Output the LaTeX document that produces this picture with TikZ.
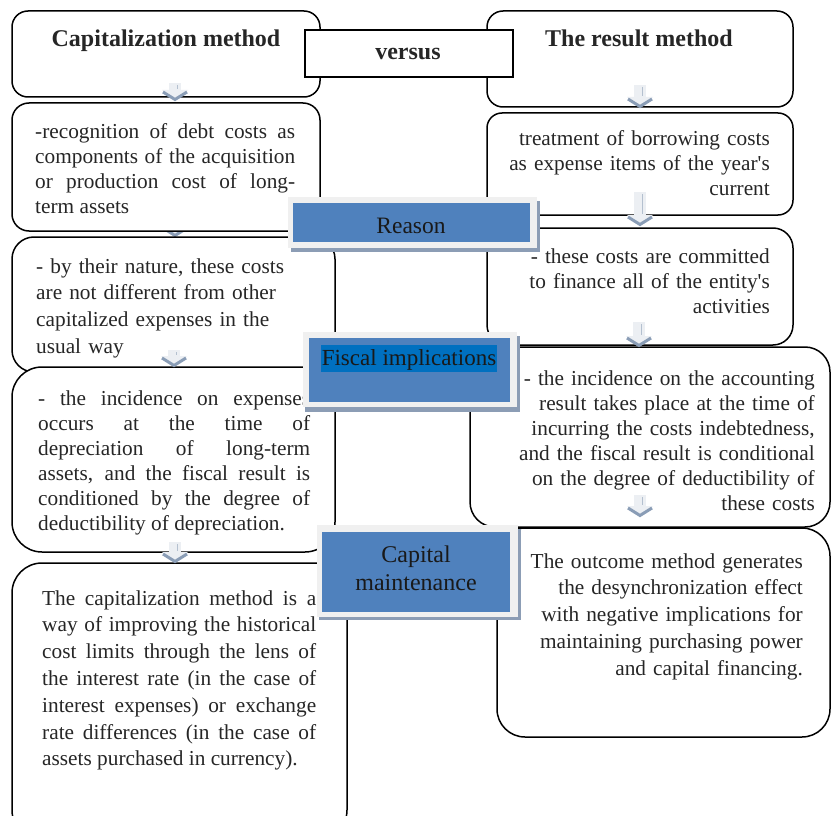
\documentclass[tikz,border=0pt]{standalone}
\usepackage{fontspec}
\setmainfont{Liberation Serif}
\usetikzlibrary{fit}

\definecolor{boxblue}{HTML}{4F81BD}
\definecolor{hiblue}{HTML}{0070C0}
\definecolor{framegray}{HTML}{F0F0F0}
\definecolor{shadowgray}{HTML}{8C9DB5}
\definecolor{arrowlight}{HTML}{ECEFF3}
\definecolor{arrowmid}{HTML}{B4C0CF}
\definecolor{arrowdark}{HTML}{8A9DB6}
\definecolor{ink}{HTML}{262626}

\tikzset{
  box/.style={draw=black, line width=1.5pt, fill=white, rounded corners=#1, inner sep=0pt},
  box/.default=18pt,
  plainbox/.style={draw=black, line width=1.5pt, fill=white, inner sep=0pt},
  body/.style={text=ink, inner sep=0pt, font=\fontsize{21.3}{25}\selectfont},
  looser/.style={font=\fontsize{21.3}{26.8}\selectfont},
  title/.style={text=ink, inner sep=0pt, anchor=base, font=\bfseries\fontsize{24}{28}\selectfont},
  lblshadow/.style={fill=shadowgray, inner sep=0pt},
  lblframe/.style={fill=framegray, inner sep=0pt},
  lblfill/.style={fill=boxblue, inner sep=0pt},
  lbltext/.style={text=black!90, inner sep=0pt, anchor=base},
  pics/downarrow/.style={code={
    \fill[arrowlight] (-6,0) rectangle (6,#1-10);
    \fill[arrowlight] (-13,#1-11) -- (13,#1-11) -- (0,#1) -- cycle;
    \draw[arrowmid, line width=1.2pt] (2.5,2) -- (2.5,#1-12);
    \draw[arrowdark, line width=3pt] (-12,#1-9) -- (0,#1-1.5) -- (12,#1-9);
  }}
}

\begin{document}
\begin{tikzpicture}[x=1pt, y=-1pt]
\useasboundingbox (0,0) rectangle (831,816);
\clip (0,0) rectangle (831,816);

% heading row
\node[box=16pt, fit={(12,11) (320,97)}] (L1) {};
\node[box=16pt, fit={(487,11) (793,107)}] (R1) {};
\node[plainbox, fit={(305,30) (513,77)}] (vs) {};
\node[title] (L1t) at (166,47) {Capitalization method};
\node[title] (R1t) at (639,47) {The result method};
\node[title] (vst) at (408,60) {versus};

% arrow hidden between the first two left boxes
\coordinate (a2) at (175,220);
\pic at (a2) {downarrow=17};

% second row
\node[box=17pt, fit={(12,103) (320,231)}] (L2) {};
\node[box=15pt, fit={(487,113) (793,215)}] (R2) {};
\node[body, text width=260pt, align=justify, anchor=base west] (L2t) at (35,139)
  {-recognition of debt costs as\linebreak components of the acquisition\linebreak or production cost of long-\linebreak term assets};
\node[body, text width=300pt, align=right, anchor=base east] (R2t) at (770,146)
  {treatment of borrowing costs\\ as expense items of the year\textquotesingle s\\ current};

% third row
\node[box=22pt, fit={(12,237) (335,372)}] (L3) {};
\node[box=20pt, fit={(487,228) (793,345)}] (R3) {};
\node[body, looser, text width=290pt, align=left, anchor=base west] (L3t) at (36,273)
  {- by their nature, these costs\\ are not different from other\\ capitalized expenses in the\\ usual way};
\node[body, text width=300pt, align=right, anchor=base east] (R3t) at (770,263)
  {- these costs are committed\\ to finance all of the entity\textquotesingle s\\ activities};

% fourth row
\node[box=30pt, fit={(12,367) (335,552)}] (L4) {};
\node[box=25pt, fit={(470,347) (830,527)}] (R4) {};
\node[body, text width=272pt, align=justify, anchor=base west] (L4t) at (38,405)
  {- the incidence on expenses\linebreak occurs at the time of\linebreak depreciation of long-term\linebreak assets, and the fiscal result is\linebreak conditioned by the degree of\linebreak deductibility of depreciation.};
\node[body, text width=340pt, align=right, anchor=base east] (R4t) at (815,385)
  {- the incidence on the accounting\\ result takes place at the time of\\ incurring the costs indebtedness,\\ and the fiscal result is conditional\\ on the degree of deductibility of\\ these costs};

% bottom row
\node[box=30pt, fit={(12,563) (347,840)}] (L5) {};
\node[box=28pt, fit={(497,528) (830,737)}] (R5) {};
\node[body, looser, text width=274pt, align=justify, anchor=base west] (L5t) at (42,605)
  {The capitalization method is a\linebreak way of improving the historical\linebreak cost limits through the lens of\linebreak the interest rate (in the case of\linebreak interest expenses) or exchange\linebreak rate differences (in the case of\linebreak assets purchased in currency).};
\node[body, looser, text width=300pt, align=right, anchor=base east] (R5t) at (803,568)
  {The outcome method generates\\ the desynchronization effect\\ with negative implications for\\ maintaining purchasing power\\ and capital financing.};

% flow arrows down each column
\coordinate (a1) at (175,83);
\coordinate (a3) at (174,350);
\coordinate (a4) at (175,542);
\coordinate (a5) at (640,85);
\coordinate (a6) at (640,192);
\coordinate (a7) at (639,322);
\coordinate (a8) at (640,495);
\pic at (a1) {downarrow=18};
\pic at (a3) {downarrow=17};
\pic at (a4) {downarrow=21};
\pic at (a5) {downarrow=23};
\pic at (a6) {downarrow=34};
\pic at (a7) {downarrow=25};
\pic at (a8) {downarrow=22};

% comparison labels
\node[lblshadow, fit={(291,201) (540,252)}] (reasonS) {};
\node[lblframe, fit={(288,197) (537,248)}] (reasonF) {};
\node[lblfill, fit={(293,203) (530,242)}] (reasonB) {};
\node[lbltext, font=\fontsize{23.5}{28}\selectfont] (reasonT) at (411,233) {Reason};

\node[lblshadow, fit={(305,336) (520,412)}] (fiscS) {};
\node[lblframe, fit={(303,332) (517,407)}] (fiscF) {};
\node[lblfill, fit={(309,338) (510,402)}] (fiscB) {};
\node[fill=hiblue, inner sep=0pt, fit={(321,345) (497,372)}] (fiscH) {};
\node[lbltext, font=\fontsize{23}{28}\selectfont] (fiscT) at (409,365) {Fiscal implications};

\node[lblshadow, fit={(319,529) (521,620)}] (capS) {};
\node[lblframe, fit={(317,525) (518,617)}] (capF) {};
\node[lblfill, fit={(322,532) (510,612)}] (capB) {};
\node[lbltext, font=\fontsize{24}{28}\selectfont, text width=180pt, align=center] (capT) at (416,562) {Capital\\ maintenance};
\end{tikzpicture}
\end{document}
